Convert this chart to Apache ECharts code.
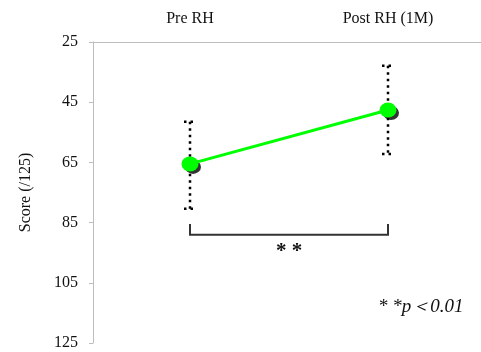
<!DOCTYPE html>
<html><head><meta charset="utf-8">
<script src="https://cdn.jsdelivr.net/npm/echarts@6/dist/echarts.min.js"></script>
<style>html,body{margin:0;padding:0;background:#fff;overflow:hidden}#c{width:496px;height:352px}</style>
</head><body><div id="c"></div>
<script>
const categories = ['Pre RH', 'Post RH (1M)'];
const means = [65.5, 47.6];
const errLow = [51.5, 32.9];
const errHigh = [80.4, 62.2];
const yTicks = [25, 45, 65, 85, 105, 125];
const bracketLevel = 89;
const bracketTop = 85.5;
const sigLabel = '* *';
const noteLabel = '* *p＜0.01';

const serif = '"Liberation Serif","DejaVu Serif",serif';
const chart = echarts.init(document.getElementById('c'));
chart.setOption({
  animation: false,
  grid: { left: 91, top: 42, width: 396, height: 301 },
  xAxis: {
    type: 'category', position: 'top', data: categories, boundaryGap: true,
    axisLine: { lineStyle: { color: '#bdbdbd', width: 1 } },
    axisTick: { inside: true, length: 3, lineStyle: { color: '#bdbdbd' } },
    axisLabel: { fontFamily: serif, fontSize: 16, color: '#111', margin: 15 },
    splitLine: { show: false }
  },
  yAxis: {
    type: 'value', inverse: true, min: yTicks[0], max: yTicks[yTicks.length - 1], interval: 20,
    offset: -2,
    name: 'Score (/125)', nameLocation: 'middle', nameGap: 59, nameRotate: 90,
    nameTextStyle: { fontFamily: serif, fontSize: 16, color: '#111' },
    axisLine: { show: true, lineStyle: { color: '#bdbdbd', width: 1 } },
    axisTick: { show: true, length: 4, lineStyle: { color: '#bdbdbd' } },
    axisLabel: { fontFamily: serif, fontSize: 16, color: '#111', margin: 15 },
    splitLine: { show: false }
  },
  series: [
    {
      type: 'custom', z: 1,
      data: categories.map((c, i) => [i, errLow[i], errHigh[i]]),
      renderItem: function (params, api) {
        const top = api.coord([api.value(0), api.value(1)]);
        const bot = api.coord([api.value(0), api.value(2)]);
        const hw = 6;
        const st = { stroke: '#000', lineWidth: 2.5, lineDash: [2.5, 4] };
        return { type: 'group', children: [
          { type: 'line', shape: { x1: top[0], y1: top[1], x2: bot[0], y2: bot[1] }, style: st },
          { type: 'line', shape: { x1: top[0] - hw, y1: top[1], x2: top[0] + hw, y2: top[1] }, style: st },
          { type: 'line', shape: { x1: bot[0] - hw, y1: bot[1], x2: bot[0] + hw, y2: bot[1] }, style: st }
        ] };
      }
    },
    {
      type: 'scatter', z: 2, data: means, symbol: 'circle', symbolSize: [16, 14],
      symbolOffset: [3, 3], itemStyle: { color: '#000' }, silent: true
    },
    {
      type: 'line', z: 3, data: means, symbol: 'circle', symbolSize: [17, 15],
      lineStyle: { color: '#00ff00', width: 3 }, itemStyle: { color: '#00ff00', borderWidth: 0 },
      showSymbol: true
    },
    {
      type: 'custom', z: 4,
      data: [[0, 1, bracketLevel, bracketTop]],
      renderItem: function (params, api) {
        const a = api.coord([api.value(0), api.value(2)]);
        const b = api.coord([api.value(1), api.value(2)]);
        const t = api.coord([api.value(0), api.value(3)]);
        const st = { stroke: '#333', lineWidth: 2, fill: null };
        return { type: 'group', children: [
          { type: 'polyline', shape: { points: [[a[0], t[1]], [a[0], a[1]], [b[0], b[1]], [b[0], t[1]]] }, style: st },
          { type: 'text', style: { text: sigLabel, x: (a[0] + b[0]) / 2, y: a[1] + 6, align: 'center', verticalAlign: 'top',
            font: 'bold 21px ' + serif, fill: '#111' } }
        ] };
      }
    }
  ],
  graphic: [
    { type: 'text', left: 378, top: 297, style: { text: noteLabel, font: 'italic 19px ' + serif, fill: '#111' } }
  ]
});
</script></body></html>
